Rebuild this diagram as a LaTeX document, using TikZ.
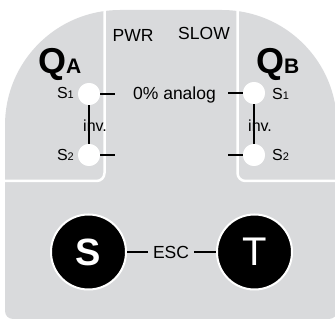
\documentclass[tikz,border=0pt]{standalone}
\usepackage{fontspec}
\setmainfont{Liberation Sans}
\definecolor{panel}{RGB}{217,218,220}
\begin{document}
\begin{tikzpicture}[x=1pt,y=-1pt,
  wline/.style={white,line width=2.5pt,rounded corners=8pt},
  conn/.style={black,line width=2.6pt},
  swc/.style={circle,fill=white,minimum size=22pt,inner sep=0pt},
  bigc/.style={circle,fill=black,draw=white,line width=2pt,minimum size=75pt,inner sep=0pt,text=white},
  lbl/.style={inner sep=0pt,font=\fontsize{17.5}{18}\selectfont},
  slbl/.style={inner sep=0pt,font=\fontsize{16}{16}\selectfont},
  qlbl/.style={inner sep=0pt,font=\bfseries\fontsize{36}{36}\selectfont}]
\useasboundingbox (0,0) rectangle (335,320);
\clip (0,0) rectangle (335,320);
% panel
\fill[panel,rounded corners=8pt] (5,150) rectangle (337,319);
\fill[panel] (5,160) -- (5,125) arc[start angle=180,end angle=270,radius=115]
  -- (222,10) arc[start angle=270,end angle=360,radius=115] -- (337,160) -- cycle;
% white dividers
\draw[wline] (104.5,0) -- (104.5,181) -- (-5,181);
\draw[wline] (237.5,0) -- (237.5,181) -- (345,181);
% headings
\node[lbl,anchor=base] (pwr) at (133,41.5) {PWR};
\node[lbl,anchor=base] (slow) at (204,39.5) {SLOW};
\node[qlbl,anchor=base west] (qa) at (38,73.5) {Q\fontsize{21}{21}\selectfont A};
\node[qlbl,anchor=base west] (qb) at (256,73.5) {Q\fontsize{21}{21}\selectfont B};
% switches
\node[swc] (a1) at (89,94) {};
\node[swc] (a2) at (89,155) {};
\node[swc] (b1) at (254,93) {};
\node[swc] (b2) at (254,155) {};
\coordinate (ta1) at (115,94);
\coordinate (ta2) at (115,155);
\coordinate (tb1) at (228,93);
\coordinate (tb2) at (228,155);
\draw[conn] (a1) -- (a2);
\draw[conn] (b1) -- (b2);
\draw[conn] (a1.east) -- (ta1);
\draw[conn] (a2.east) -- (ta2);
\draw[conn] (b1.west) -- (tb1);
\draw[conn] (b2.west) -- (tb2);
\node[swc] at (a1) {};
\node[swc] at (a2) {};
\node[swc] at (b1) {};
\node[swc] at (b2) {};
\node[slbl,anchor=base west] (inva) at (83,132) {inv.};
\node[slbl,anchor=base west] (invb) at (248,132) {inv.};
\node[slbl,anchor=base east] (sa1) at (74,99) {S\fontsize{11}{11}\selectfont 1};
\node[slbl,anchor=base east] (sa2) at (74,161) {S\fontsize{11}{11}\selectfont 2};
\node[slbl,anchor=base west] (sb1) at (272,100) {S\fontsize{11}{11}\selectfont 1};
\node[slbl,anchor=base west] (sb2) at (272,161) {S\fontsize{11}{11}\selectfont 2};
\node[lbl,anchor=base] (ana) at (174.5,100) {0\% analog};
% S / T
\node[bigc,font=\bfseries\fontsize{38}{38}\selectfont] (S) at (88.5,252) {S};
\node[bigc,font=\fontsize{40}{40}\selectfont] (T) at (254.5,252) {T};
\node[lbl,inner sep=5pt] (esc) at (171,252) {ESC};
\draw[conn] (S) -- (esc);
\draw[conn] (esc) -- (T);
\end{tikzpicture}
\end{document}
